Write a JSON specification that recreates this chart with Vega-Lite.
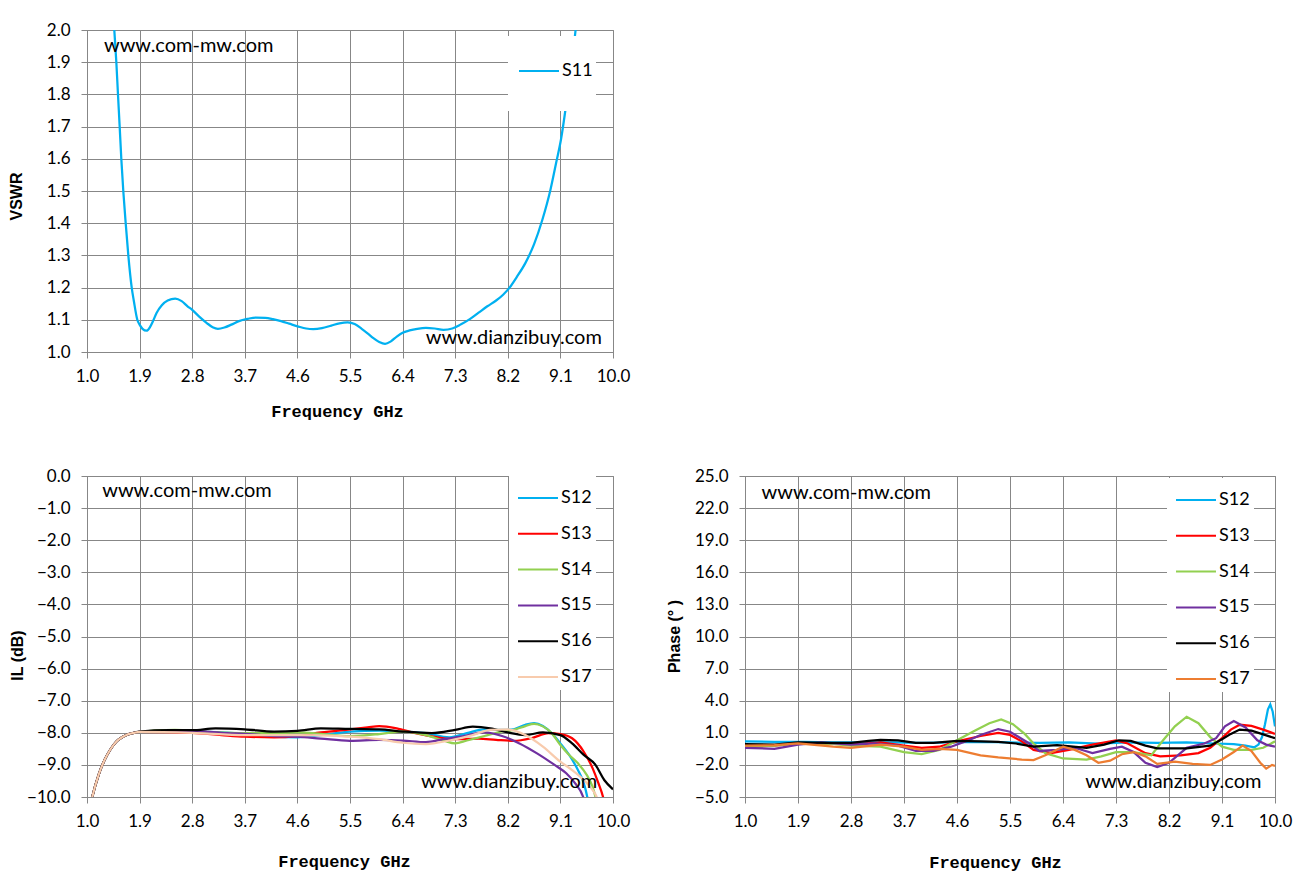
{
  "$schema": "https://vega.github.io/schema/vega-lite/v6.json",
  "background": "white",
  "padding": {"left": 7, "top": 20, "right": 5, "bottom": 5},
  "datasets": {
    "s11": [
      {"f": 1.44, "v": 2.08}, {"f": 1.467, "v": 2.00}, {"f": 1.502, "v": 1.90}, {"f": 1.530, "v": 1.80},
      {"f": 1.559, "v": 1.70}, {"f": 1.587, "v": 1.60}, {"f": 1.621, "v": 1.50}, {"f": 1.662, "v": 1.40},
      {"f": 1.707, "v": 1.30}, {"f": 1.765, "v": 1.20}, {"f": 1.80, "v": 1.16}, {"f": 1.861, "v": 1.10},
      {"f": 1.90, "v": 1.085}, {"f": 1.95, "v": 1.072}, {"f": 2.02, "v": 1.066}, {"f": 2.08, "v": 1.078},
      {"f": 2.13, "v": 1.096}, {"f": 2.19, "v": 1.121}, {"f": 2.28, "v": 1.145}, {"f": 2.38, "v": 1.160},
      {"f": 2.51, "v": 1.166}, {"f": 2.62, "v": 1.158}, {"f": 2.72, "v": 1.142}, {"f": 2.80, "v": 1.131},
      {"f": 2.92, "v": 1.110}, {"f": 3.05, "v": 1.090}, {"f": 3.15, "v": 1.077}, {"f": 3.24, "v": 1.072},
      {"f": 3.35, "v": 1.076}, {"f": 3.47, "v": 1.085}, {"f": 3.60, "v": 1.096}, {"f": 3.75, "v": 1.103},
      {"f": 3.89, "v": 1.107}, {"f": 4.05, "v": 1.106}, {"f": 4.18, "v": 1.102}, {"f": 4.32, "v": 1.096},
      {"f": 4.46, "v": 1.088}, {"f": 4.62, "v": 1.079}, {"f": 4.75, "v": 1.073}, {"f": 4.87, "v": 1.071},
      {"f": 5.02, "v": 1.074}, {"f": 5.18, "v": 1.082}, {"f": 5.32, "v": 1.089}, {"f": 5.46, "v": 1.092},
      {"f": 5.58, "v": 1.087}, {"f": 5.70, "v": 1.072}, {"f": 5.80, "v": 1.058}, {"f": 5.90, "v": 1.043},
      {"f": 6.00, "v": 1.031}, {"f": 6.10, "v": 1.025}, {"f": 6.20, "v": 1.033}, {"f": 6.30, "v": 1.048},
      {"f": 6.40, "v": 1.060}, {"f": 6.52, "v": 1.067}, {"f": 6.65, "v": 1.072}, {"f": 6.80, "v": 1.075},
      {"f": 6.95, "v": 1.073}, {"f": 7.10, "v": 1.069}, {"f": 7.25, "v": 1.073}, {"f": 7.40, "v": 1.086},
      {"f": 7.55, "v": 1.102}, {"f": 7.70, "v": 1.122}, {"f": 7.85, "v": 1.142}, {"f": 8.00, "v": 1.160},
      {"f": 8.12, "v": 1.178}, {"f": 8.23, "v": 1.200}, {"f": 8.35, "v": 1.232}, {"f": 8.50, "v": 1.276},
      {"f": 8.65, "v": 1.335}, {"f": 8.79, "v": 1.410}, {"f": 8.93, "v": 1.504}, {"f": 9.03, "v": 1.590},
      {"f": 9.11, "v": 1.660}, {"f": 9.20, "v": 1.770}, {"f": 9.28, "v": 1.880}, {"f": 9.36, "v": 2.000},
      {"f": 9.42, "v": 2.110}
    ],
    "il": [
      {"s": "S12", "f": 1.02, "v": -10.6}, {"s": "S12", "f": 1.09, "v": -10.0}, {"s": "S12", "f": 1.2, "v": -9.3}, {"s": "S12", "f": 1.3, "v": -8.85}, {"s": "S12", "f": 1.4, "v": -8.52}, {"s": "S12", "f": 1.5, "v": -8.28}, {"s": "S12", "f": 1.6, "v": -8.14}, {"s": "S12", "f": 1.7, "v": -8.05}, {"s": "S12", "f": 1.8, "v": -8.0}, {"s": "S12", "f": 1.9, "v": -7.97},
      {"s": "S12", "f": 2.8, "v": -7.96}, {"s": "S12", "f": 3.7, "v": -8.03}, {"s": "S12", "f": 4.2, "v": -8.12}, {"s": "S12", "f": 4.6, "v": -8.14}, {"s": "S12", "f": 5.0, "v": -8.07}, {"s": "S12", "f": 5.5, "v": -7.96}, {"s": "S12", "f": 6.0, "v": -7.93}, {"s": "S12", "f": 6.4, "v": -7.96}, {"s": "S12", "f": 6.8, "v": -8.01}, {"s": "S12", "f": 7.2, "v": -8.14}, {"s": "S12", "f": 7.5, "v": -8.01}, {"s": "S12", "f": 7.8, "v": -7.89}, {"s": "S12", "f": 8.1, "v": -7.91}, {"s": "S12", "f": 8.3, "v": -7.89}, {"s": "S12", "f": 8.5, "v": -7.75}, {"s": "S12", "f": 8.65, "v": -7.70}, {"s": "S12", "f": 8.8, "v": -7.79}, {"s": "S12", "f": 8.95, "v": -8.01}, {"s": "S12", "f": 9.1, "v": -8.33}, {"s": "S12", "f": 9.25, "v": -8.69}, {"s": "S12", "f": 9.4, "v": -9.16}, {"s": "S12", "f": 9.5, "v": -9.57}, {"s": "S12", "f": 9.56, "v": -10.0}, {"s": "S12", "f": 9.6, "v": -10.4},
      {"s": "S13", "f": 1.02, "v": -10.6}, {"s": "S13", "f": 1.09, "v": -10.0}, {"s": "S13", "f": 1.2, "v": -9.3}, {"s": "S13", "f": 1.3, "v": -8.85}, {"s": "S13", "f": 1.4, "v": -8.52}, {"s": "S13", "f": 1.5, "v": -8.28}, {"s": "S13", "f": 1.6, "v": -8.14}, {"s": "S13", "f": 1.7, "v": -8.05}, {"s": "S13", "f": 1.8, "v": -8.0}, {"s": "S13", "f": 1.9, "v": -7.97},
      {"s": "S13", "f": 2.8, "v": -8.0}, {"s": "S13", "f": 3.3, "v": -8.07}, {"s": "S13", "f": 3.7, "v": -8.12}, {"s": "S13", "f": 4.2, "v": -8.14}, {"s": "S13", "f": 4.6, "v": -8.1}, {"s": "S13", "f": 5.0, "v": -7.99}, {"s": "S13", "f": 5.5, "v": -7.89}, {"s": "S13", "f": 5.8, "v": -7.83}, {"s": "S13", "f": 6.0, "v": -7.79}, {"s": "S13", "f": 6.3, "v": -7.86}, {"s": "S13", "f": 6.6, "v": -8.0}, {"s": "S13", "f": 7.0, "v": -8.14}, {"s": "S13", "f": 7.3, "v": -8.2}, {"s": "S13", "f": 7.7, "v": -8.18}, {"s": "S13", "f": 8.0, "v": -8.22}, {"s": "S13", "f": 8.3, "v": -8.25}, {"s": "S13", "f": 8.6, "v": -8.17}, {"s": "S13", "f": 8.9, "v": -8.01}, {"s": "S13", "f": 9.1, "v": -8.04}, {"s": "S13", "f": 9.3, "v": -8.17}, {"s": "S13", "f": 9.5, "v": -8.59}, {"s": "S13", "f": 9.65, "v": -9.1}, {"s": "S13", "f": 9.75, "v": -9.57}, {"s": "S13", "f": 9.83, "v": -10.0}, {"s": "S13", "f": 9.88, "v": -10.4},
      {"s": "S14", "f": 1.02, "v": -10.6}, {"s": "S14", "f": 1.09, "v": -10.0}, {"s": "S14", "f": 1.2, "v": -9.3}, {"s": "S14", "f": 1.3, "v": -8.85}, {"s": "S14", "f": 1.4, "v": -8.52}, {"s": "S14", "f": 1.5, "v": -8.28}, {"s": "S14", "f": 1.6, "v": -8.14}, {"s": "S14", "f": 1.7, "v": -8.05}, {"s": "S14", "f": 1.8, "v": -8.0}, {"s": "S14", "f": 1.9, "v": -7.97},
      {"s": "S14", "f": 2.5, "v": -7.91}, {"s": "S14", "f": 3.0, "v": -7.96}, {"s": "S14", "f": 3.7, "v": -8.01}, {"s": "S14", "f": 4.2, "v": -8.01}, {"s": "S14", "f": 4.6, "v": -7.99}, {"s": "S14", "f": 5.0, "v": -8.03}, {"s": "S14", "f": 5.5, "v": -8.1}, {"s": "S14", "f": 6.0, "v": -8.04}, {"s": "S14", "f": 6.4, "v": -7.96}, {"s": "S14", "f": 6.8, "v": -8.07}, {"s": "S14", "f": 7.1, "v": -8.24}, {"s": "S14", "f": 7.3, "v": -8.33}, {"s": "S14", "f": 7.5, "v": -8.24}, {"s": "S14", "f": 7.8, "v": -8.1}, {"s": "S14", "f": 8.1, "v": -7.96}, {"s": "S14", "f": 8.3, "v": -7.91}, {"s": "S14", "f": 8.5, "v": -7.79}, {"s": "S14", "f": 8.65, "v": -7.72}, {"s": "S14", "f": 8.8, "v": -7.8}, {"s": "S14", "f": 8.95, "v": -8.01}, {"s": "S14", "f": 9.1, "v": -8.38}, {"s": "S14", "f": 9.25, "v": -8.69}, {"s": "S14", "f": 9.4, "v": -8.95}, {"s": "S14", "f": 9.55, "v": -9.31}, {"s": "S14", "f": 9.65, "v": -9.68}, {"s": "S14", "f": 9.7, "v": -10.0}, {"s": "S14", "f": 9.75, "v": -10.4},
      {"s": "S15", "f": 1.02, "v": -10.6}, {"s": "S15", "f": 1.09, "v": -10.0}, {"s": "S15", "f": 1.2, "v": -9.3}, {"s": "S15", "f": 1.3, "v": -8.85}, {"s": "S15", "f": 1.4, "v": -8.52}, {"s": "S15", "f": 1.5, "v": -8.28}, {"s": "S15", "f": 1.6, "v": -8.14}, {"s": "S15", "f": 1.7, "v": -8.05}, {"s": "S15", "f": 1.8, "v": -8.0}, {"s": "S15", "f": 1.9, "v": -7.97},
      {"s": "S15", "f": 2.8, "v": -7.94}, {"s": "S15", "f": 3.4, "v": -8.01}, {"s": "S15", "f": 3.7, "v": -8.03}, {"s": "S15", "f": 4.2, "v": -8.1}, {"s": "S15", "f": 4.6, "v": -8.12}, {"s": "S15", "f": 5.0, "v": -8.18}, {"s": "S15", "f": 5.5, "v": -8.25}, {"s": "S15", "f": 6.0, "v": -8.22}, {"s": "S15", "f": 6.4, "v": -8.24}, {"s": "S15", "f": 6.8, "v": -8.29}, {"s": "S15", "f": 7.1, "v": -8.2}, {"s": "S15", "f": 7.4, "v": -8.12}, {"s": "S15", "f": 7.8, "v": -7.99}, {"s": "S15", "f": 8.1, "v": -8.1}, {"s": "S15", "f": 8.4, "v": -8.33}, {"s": "S15", "f": 8.7, "v": -8.64}, {"s": "S15", "f": 9.0, "v": -9.0}, {"s": "S15", "f": 9.2, "v": -9.26}, {"s": "S15", "f": 9.35, "v": -9.57}, {"s": "S15", "f": 9.49, "v": -10.0}, {"s": "S15", "f": 9.55, "v": -10.4},
      {"s": "S16", "f": 1.02, "v": -10.6}, {"s": "S16", "f": 1.09, "v": -10.0}, {"s": "S16", "f": 1.2, "v": -9.3}, {"s": "S16", "f": 1.3, "v": -8.85}, {"s": "S16", "f": 1.4, "v": -8.52}, {"s": "S16", "f": 1.5, "v": -8.28}, {"s": "S16", "f": 1.6, "v": -8.14}, {"s": "S16", "f": 1.7, "v": -8.05}, {"s": "S16", "f": 1.8, "v": -8.0}, {"s": "S16", "f": 1.9, "v": -7.96},
      {"s": "S16", "f": 2.4, "v": -7.92}, {"s": "S16", "f": 2.8, "v": -7.92}, {"s": "S16", "f": 3.2, "v": -7.86}, {"s": "S16", "f": 3.7, "v": -7.89}, {"s": "S16", "f": 4.2, "v": -7.96}, {"s": "S16", "f": 4.6, "v": -7.94}, {"s": "S16", "f": 5.0, "v": -7.86}, {"s": "S16", "f": 5.5, "v": -7.88}, {"s": "S16", "f": 6.0, "v": -7.89}, {"s": "S16", "f": 6.4, "v": -7.96}, {"s": "S16", "f": 6.9, "v": -8.01}, {"s": "S16", "f": 7.3, "v": -7.91}, {"s": "S16", "f": 7.6, "v": -7.81}, {"s": "S16", "f": 7.9, "v": -7.86}, {"s": "S16", "f": 8.2, "v": -7.99}, {"s": "S16", "f": 8.5, "v": -8.07}, {"s": "S16", "f": 8.8, "v": -7.99}, {"s": "S16", "f": 9.1, "v": -8.07}, {"s": "S16", "f": 9.3, "v": -8.33}, {"s": "S16", "f": 9.5, "v": -8.69}, {"s": "S16", "f": 9.7, "v": -9.0}, {"s": "S16", "f": 9.85, "v": -9.47}, {"s": "S16", "f": 10.0, "v": -9.76},
      {"s": "S17", "f": 1.02, "v": -10.6}, {"s": "S17", "f": 1.09, "v": -10.0}, {"s": "S17", "f": 1.2, "v": -9.3}, {"s": "S17", "f": 1.3, "v": -8.85}, {"s": "S17", "f": 1.4, "v": -8.52}, {"s": "S17", "f": 1.5, "v": -8.28}, {"s": "S17", "f": 1.6, "v": -8.14}, {"s": "S17", "f": 1.7, "v": -8.05}, {"s": "S17", "f": 1.8, "v": -8.0}, {"s": "S17", "f": 1.9, "v": -7.97},
      {"s": "S17", "f": 2.8, "v": -8.0}, {"s": "S17", "f": 3.7, "v": -8.07}, {"s": "S17", "f": 4.2, "v": -8.07}, {"s": "S17", "f": 4.6, "v": -8.07}, {"s": "S17", "f": 5.0, "v": -8.08}, {"s": "S17", "f": 5.5, "v": -8.12}, {"s": "S17", "f": 6.0, "v": -8.2}, {"s": "S17", "f": 6.4, "v": -8.31}, {"s": "S17", "f": 6.8, "v": -8.35}, {"s": "S17", "f": 7.2, "v": -8.24}, {"s": "S17", "f": 7.6, "v": -8.07}, {"s": "S17", "f": 7.9, "v": -7.91}, {"s": "S17", "f": 8.2, "v": -7.89}, {"s": "S17", "f": 8.5, "v": -8.07}, {"s": "S17", "f": 8.8, "v": -8.43}, {"s": "S17", "f": 9.1, "v": -8.9}, {"s": "S17", "f": 9.3, "v": -9.16}, {"s": "S17", "f": 9.5, "v": -9.47}, {"s": "S17", "f": 9.65, "v": -9.78}, {"s": "S17", "f": 9.72, "v": -10.0}, {"s": "S17", "f": 9.78, "v": -10.4}
    ],
    "phase": [
      {"s": "S12", "f": 1.0, "v": 0.2}, {"s": "S12", "f": 1.5, "v": 0.15}, {"s": "S12", "f": 2.0, "v": 0.15}, {"s": "S12", "f": 2.5, "v": 0.1}, {"s": "S12", "f": 3.0, "v": 0.1}, {"s": "S12", "f": 3.5, "v": 0.1}, {"s": "S12", "f": 4.0, "v": 0.05}, {"s": "S12", "f": 4.5, "v": 0.1}, {"s": "S12", "f": 5.0, "v": 0.15}, {"s": "S12", "f": 5.5, "v": 0.1}, {"s": "S12", "f": 6.0, "v": 0.05}, {"s": "S12", "f": 6.5, "v": 0.1}, {"s": "S12", "f": 7.0, "v": 0.0}, {"s": "S12", "f": 7.5, "v": 0.1}, {"s": "S12", "f": 8.0, "v": 0.05}, {"s": "S12", "f": 8.5, "v": 0.1}, {"s": "S12", "f": 9.0, "v": 0.0}, {"s": "S12", "f": 9.3, "v": -0.05}, {"s": "S12", "f": 9.5, "v": -0.2}, {"s": "S12", "f": 9.65, "v": -0.35}, {"s": "S12", "f": 9.72, "v": -0.1}, {"s": "S12", "f": 9.78, "v": 0.6}, {"s": "S12", "f": 9.83, "v": 1.8}, {"s": "S12", "f": 9.88, "v": 3.2}, {"s": "S12", "f": 9.92, "v": 3.65}, {"s": "S12", "f": 9.96, "v": 3.0}, {"s": "S12", "f": 10.0, "v": 1.6},
      {"s": "S13", "f": 1.0, "v": -0.3}, {"s": "S13", "f": 1.5, "v": -0.2}, {"s": "S13", "f": 1.9, "v": 0.0}, {"s": "S13", "f": 2.4, "v": 0.0}, {"s": "S13", "f": 2.8, "v": -0.1}, {"s": "S13", "f": 3.3, "v": 0.1}, {"s": "S13", "f": 3.7, "v": -0.2}, {"s": "S13", "f": 4.0, "v": -0.4}, {"s": "S13", "f": 4.3, "v": -0.3}, {"s": "S13", "f": 4.6, "v": 0.2}, {"s": "S13", "f": 5.0, "v": 0.7}, {"s": "S13", "f": 5.3, "v": 1.0}, {"s": "S13", "f": 5.5, "v": 0.8}, {"s": "S13", "f": 5.7, "v": 0.2}, {"s": "S13", "f": 5.9, "v": -0.6}, {"s": "S13", "f": 6.2, "v": -0.9}, {"s": "S13", "f": 6.5, "v": -0.6}, {"s": "S13", "f": 6.9, "v": -0.1}, {"s": "S13", "f": 7.3, "v": 0.3}, {"s": "S13", "f": 7.5, "v": 0.0}, {"s": "S13", "f": 7.8, "v": -0.9}, {"s": "S13", "f": 8.05, "v": -1.2}, {"s": "S13", "f": 8.4, "v": -1.1}, {"s": "S13", "f": 8.7, "v": -0.9}, {"s": "S13", "f": 8.9, "v": -0.4}, {"s": "S13", "f": 9.1, "v": 0.5}, {"s": "S13", "f": 9.25, "v": 1.3}, {"s": "S13", "f": 9.4, "v": 1.75}, {"s": "S13", "f": 9.6, "v": 1.65}, {"s": "S13", "f": 9.8, "v": 1.3}, {"s": "S13", "f": 10.0, "v": 0.9},
      {"s": "S14", "f": 1.0, "v": -0.3}, {"s": "S14", "f": 1.5, "v": -0.2}, {"s": "S14", "f": 1.9, "v": 0.0}, {"s": "S14", "f": 2.4, "v": 0.0}, {"s": "S14", "f": 2.8, "v": -0.2}, {"s": "S14", "f": 3.3, "v": -0.3}, {"s": "S14", "f": 3.7, "v": -0.8}, {"s": "S14", "f": 4.0, "v": -1.0}, {"s": "S14", "f": 4.3, "v": -0.6}, {"s": "S14", "f": 4.6, "v": 0.3}, {"s": "S14", "f": 4.9, "v": 1.2}, {"s": "S14", "f": 5.15, "v": 1.9}, {"s": "S14", "f": 5.35, "v": 2.25}, {"s": "S14", "f": 5.55, "v": 1.8}, {"s": "S14", "f": 5.75, "v": 0.9}, {"s": "S14", "f": 5.9, "v": 0.0}, {"s": "S14", "f": 6.1, "v": -0.9}, {"s": "S14", "f": 6.4, "v": -1.4}, {"s": "S14", "f": 6.8, "v": -1.5}, {"s": "S14", "f": 7.05, "v": -1.2}, {"s": "S14", "f": 7.3, "v": -0.8}, {"s": "S14", "f": 7.6, "v": -0.8}, {"s": "S14", "f": 7.9, "v": -1.1}, {"s": "S14", "f": 8.1, "v": 0.3}, {"s": "S14", "f": 8.3, "v": 1.6}, {"s": "S14", "f": 8.5, "v": 2.5}, {"s": "S14", "f": 8.7, "v": 1.9}, {"s": "S14", "f": 8.9, "v": 0.6}, {"s": "S14", "f": 9.1, "v": -0.3}, {"s": "S14", "f": 9.3, "v": -0.6}, {"s": "S14", "f": 9.6, "v": -0.6}, {"s": "S14", "f": 9.8, "v": -0.4}, {"s": "S14", "f": 10.0, "v": 0.2},
      {"s": "S15", "f": 1.0, "v": -0.4}, {"s": "S15", "f": 1.5, "v": -0.5}, {"s": "S15", "f": 1.9, "v": -0.1}, {"s": "S15", "f": 2.3, "v": 0.1}, {"s": "S15", "f": 2.8, "v": -0.1}, {"s": "S15", "f": 3.2, "v": 0.0}, {"s": "S15", "f": 3.6, "v": -0.2}, {"s": "S15", "f": 3.9, "v": -0.7}, {"s": "S15", "f": 4.2, "v": -0.7}, {"s": "S15", "f": 4.5, "v": -0.3}, {"s": "S15", "f": 4.8, "v": 0.3}, {"s": "S15", "f": 5.0, "v": 0.8}, {"s": "S15", "f": 5.3, "v": 1.35}, {"s": "S15", "f": 5.5, "v": 1.1}, {"s": "S15", "f": 5.8, "v": 0.1}, {"s": "S15", "f": 6.0, "v": -0.7}, {"s": "S15", "f": 6.3, "v": -0.6}, {"s": "S15", "f": 6.6, "v": -0.4}, {"s": "S15", "f": 6.9, "v": -0.9}, {"s": "S15", "f": 7.2, "v": -0.5}, {"s": "S15", "f": 7.4, "v": -0.3}, {"s": "S15", "f": 7.6, "v": -0.8}, {"s": "S15", "f": 7.8, "v": -1.8}, {"s": "S15", "f": 8.0, "v": -2.2}, {"s": "S15", "f": 8.2, "v": -1.8}, {"s": "S15", "f": 8.5, "v": -0.4}, {"s": "S15", "f": 8.8, "v": 0.0}, {"s": "S15", "f": 9.0, "v": 0.5}, {"s": "S15", "f": 9.15, "v": 1.6}, {"s": "S15", "f": 9.3, "v": 2.1}, {"s": "S15", "f": 9.5, "v": 1.5}, {"s": "S15", "f": 9.7, "v": 0.3}, {"s": "S15", "f": 9.85, "v": -0.1}, {"s": "S15", "f": 10.0, "v": -0.3},
      {"s": "S16", "f": 1.0, "v": -0.05}, {"s": "S16", "f": 1.5, "v": -0.1}, {"s": "S16", "f": 1.9, "v": 0.1}, {"s": "S16", "f": 2.4, "v": 0.05}, {"s": "S16", "f": 2.8, "v": 0.05}, {"s": "S16", "f": 3.1, "v": 0.25}, {"s": "S16", "f": 3.3, "v": 0.35}, {"s": "S16", "f": 3.6, "v": 0.3}, {"s": "S16", "f": 3.9, "v": 0.05}, {"s": "S16", "f": 4.2, "v": 0.05}, {"s": "S16", "f": 4.6, "v": 0.25}, {"s": "S16", "f": 5.0, "v": 0.2}, {"s": "S16", "f": 5.3, "v": 0.15}, {"s": "S16", "f": 5.6, "v": 0.0}, {"s": "S16", "f": 5.9, "v": -0.3}, {"s": "S16", "f": 6.3, "v": -0.15}, {"s": "S16", "f": 6.8, "v": -0.4}, {"s": "S16", "f": 7.1, "v": -0.1}, {"s": "S16", "f": 7.35, "v": 0.3}, {"s": "S16", "f": 7.55, "v": 0.25}, {"s": "S16", "f": 7.8, "v": -0.2}, {"s": "S16", "f": 8.0, "v": -0.45}, {"s": "S16", "f": 8.5, "v": -0.45}, {"s": "S16", "f": 8.9, "v": -0.2}, {"s": "S16", "f": 9.1, "v": 0.4}, {"s": "S16", "f": 9.25, "v": 0.9}, {"s": "S16", "f": 9.4, "v": 1.3}, {"s": "S16", "f": 9.6, "v": 1.2}, {"s": "S16", "f": 9.8, "v": 0.85}, {"s": "S16", "f": 10.0, "v": 0.5},
      {"s": "S17", "f": 1.0, "v": -0.2}, {"s": "S17", "f": 1.5, "v": -0.15}, {"s": "S17", "f": 1.9, "v": 0.0}, {"s": "S17", "f": 2.5, "v": -0.3}, {"s": "S17", "f": 2.8, "v": -0.4}, {"s": "S17", "f": 3.3, "v": -0.1}, {"s": "S17", "f": 3.7, "v": -0.3}, {"s": "S17", "f": 4.0, "v": -0.6}, {"s": "S17", "f": 4.3, "v": -0.5}, {"s": "S17", "f": 4.6, "v": -0.6}, {"s": "S17", "f": 5.0, "v": -1.1}, {"s": "S17", "f": 5.3, "v": -1.3}, {"s": "S17", "f": 5.7, "v": -1.5}, {"s": "S17", "f": 5.9, "v": -1.55}, {"s": "S17", "f": 6.1, "v": -1.1}, {"s": "S17", "f": 6.4, "v": -0.3}, {"s": "S17", "f": 6.6, "v": -0.6}, {"s": "S17", "f": 6.8, "v": -1.1}, {"s": "S17", "f": 7.0, "v": -1.8}, {"s": "S17", "f": 7.2, "v": -1.6}, {"s": "S17", "f": 7.4, "v": -1.0}, {"s": "S17", "f": 7.6, "v": -0.8}, {"s": "S17", "f": 7.8, "v": -1.2}, {"s": "S17", "f": 8.0, "v": -1.9}, {"s": "S17", "f": 8.3, "v": -1.7}, {"s": "S17", "f": 8.6, "v": -1.9}, {"s": "S17", "f": 8.9, "v": -2.0}, {"s": "S17", "f": 9.1, "v": -1.5}, {"s": "S17", "f": 9.3, "v": -0.8}, {"s": "S17", "f": 9.45, "v": -0.2}, {"s": "S17", "f": 9.6, "v": -0.7}, {"s": "S17", "f": 9.75, "v": -1.8}, {"s": "S17", "f": 9.85, "v": -2.35}, {"s": "S17", "f": 9.95, "v": -2.0}, {"s": "S17", "f": 10.0, "v": -2.1}
    ]
  },
  "config": {
    "view": {"stroke": "#878787", "strokeWidth": 1},
    "font": "Lato",
    "axis": {
      "grid": true,
      "gridColor": "#878787",
      "gridOpacity": 1,
      "domainColor": "#878787",
      "tickColor": "#878787",
      "tickSize": 6,
      "labelFont": "Lato",
      "labelFontSize": 17,
      "labelColor": "#000000",
      "labelOverlap": false,
      "labelBound": false,
      "titleColor": "#000000",
      "titleFontSize": 16,
      "titleFontWeight": "bold"
    },
    "axisX": {"labelFlush": false, "labelPadding": 10, "titleFont": "Liberation Mono", "titleFontSize": 17, "titleBaseline": "middle"},
    "axisY": {"labelPadding": 11, "titleFont": "Liberation Sans"},
    "legend": {
      "title": null,
      "orient": "none",
      "fillColor": "white",
      "padding": 4,
      "labelFont": "Lato",
      "labelFontSize": 18,
      "labelColor": "#000000",
      "rowPadding": 8.8,
      "symbolStrokeWidth": 2
    },
    "text": {"font": "Lato", "fontSize": 20, "color": "#000000"}
  },
  "vconcat": [
    {
      "width": 526,
      "height": 322,
      "encoding": {
        "x": {"field": "f", "type": "quantitative", "scale": {"domain": [1, 10], "nice": false},
              "axis": {"title": "Frequency GHz", "values": [1, 1.9, 2.8, 3.7, 4.6, 5.5, 6.4, 7.3, 8.2, 9.1, 10], "format": ".1f", "titleX": 250, "titleY": 59}},
        "y": {"field": "v", "type": "quantitative", "scale": {"domain": [1, 2], "nice": false},
              "axis": {"title": "VSWR", "values": [1, 1.1, 1.2, 1.3, 1.4, 1.5, 1.6, 1.7, 1.8, 1.9, 2], "format": ".1f", "titleX": -63, "titleY": 166}}
      },
      "layer": [
        {
          "data": {"name": "s11"},
          "mark": {"type": "line", "clip": true, "strokeWidth": 2.25, "interpolate": "monotone"},
          "encoding": {
            "color": {"datum": "S11", "type": "nominal", "scale": {"domain": ["S11"], "range": ["#00B0F0"]},
                      "legend": {"legendX": 421, "legendY": 6, "padding": 2.5, "symbolType": "M-0.635,0H0.635M0,1.063", "symbolSize": 3969, "symbolOffset": -4, "labelOffset": -9.5}}
          }
        },
        {
          "data": {"values": [{"f": 1.29, "v": 1.95, "t": "www.com-mw.com"}]},
          "mark": {"type": "text", "align": "left", "baseline": "middle"},
          "encoding": {"text": {"field": "t"}}
        },
        {
          "data": {"values": [{"f": 9.81, "v": 1.043, "t": "www.dianzibuy.com"}]},
          "mark": {"type": "text", "align": "right", "baseline": "middle"},
          "encoding": {"text": {"field": "t"}}
        }
      ]
    },
    {
      "hconcat": [
        {
          "width": 526,
          "height": 321,
          "encoding": {
            "x": {"field": "f", "type": "quantitative", "scale": {"domain": [1, 10], "nice": false},
                  "axis": {"title": "Frequency GHz", "values": [1, 1.9, 2.8, 3.7, 4.6, 5.5, 6.4, 7.3, 8.2, 9.1, 10], "format": ".1f", "titleX": 257, "titleY": 64}},
            "y": {"field": "v", "type": "quantitative", "scale": {"domain": [-10, 0], "nice": false},
                  "axis": {"title": "IL (dB)", "values": [-10, -9, -8, -7, -6, -5, -4, -3, -2, -1, 0], "format": ".1f", "titleX": -62, "titleY": 179}}
          },
          "layer": [
            {
              "data": {"name": "il"},
              "mark": {"type": "line", "clip": true, "strokeWidth": 2.25, "interpolate": "monotone"},
              "encoding": {
                "color": {"field": "s", "type": "nominal",
                          "scale": {"domain": ["S12", "S13", "S14", "S15", "S16", "S17"], "range": ["#00B0F0", "#FF0000", "#92D050", "#7030A0", "#000000", "#F8CBAD"]},
                          "legend": {"legendX": 422, "legendY": 0, "symbolType": "M-1.176,0H1.176", "symbolSize": 1156, "symbolOffset": 7, "labelOffset": 5}}
              }
            },
            {
              "data": {"values": [{"f": 1.26, "v": -0.47, "t": "www.com-mw.com"}]},
              "mark": {"type": "text", "align": "left", "baseline": "middle"},
              "encoding": {"text": {"field": "t"}}
            },
            {
              "data": {"values": [{"f": 9.73, "v": -9.52, "t": "www.dianzibuy.com"}]},
              "mark": {"type": "text", "align": "right", "baseline": "middle"},
              "encoding": {"text": {"field": "t"}}
            }
          ]
        },
        {
          "width": 530,
          "height": 321,
          "encoding": {
            "x": {"field": "f", "type": "quantitative", "scale": {"domain": [1, 10], "nice": false},
                  "axis": {"title": "Frequency GHz", "values": [1, 1.9, 2.8, 3.7, 4.6, 5.5, 6.4, 7.3, 8.2, 9.1, 10], "format": ".1f", "titleX": 250, "titleY": 65}},
            "y": {"field": "v", "type": "quantitative", "scale": {"domain": [-5, 25], "nice": false},
                  "axis": {"title": "Phase (° )", "values": [-5, -2, 1, 4, 7, 10, 13, 16, 19, 22, 25], "format": ".1f", "titleX": -63, "titleY": 160}}
          },
          "layer": [
            {
              "data": {"name": "phase"},
              "mark": {"type": "line", "clip": true, "strokeWidth": 2.25},
              "encoding": {
                "color": {"field": "s", "type": "nominal",
                          "scale": {"domain": ["S12", "S13", "S14", "S15", "S16", "S17"], "range": ["#00B0F0", "#FF0000", "#92D050", "#7030A0", "#000000", "#ED7D31"]},
                          "legend": {"legendX": 422, "legendY": 2, "symbolType": "M-1.176,0H1.176", "symbolSize": 1156, "symbolOffset": 7, "labelOffset": 5}}
              }
            },
            {
              "data": {"values": [{"f": 1.28, "v": 23.4, "t": "www.com-mw.com"}]},
              "mark": {"type": "text", "align": "left", "baseline": "middle"},
              "encoding": {"text": {"field": "t"}}
            },
            {
              "data": {"values": [{"f": 9.77, "v": -3.57, "t": "www.dianzibuy.com"}]},
              "mark": {"type": "text", "align": "right", "baseline": "middle"},
              "encoding": {"text": {"field": "t"}}
            }
          ]
        }
      ],
      "spacing": 132,
      "bounds": "flush",
      "resolve": {"scale": {"color": "independent"}}
    }
  ],
  "spacing": 124,
  "bounds": "flush",
  "resolve": {"scale": {"color": "independent"}}
}
